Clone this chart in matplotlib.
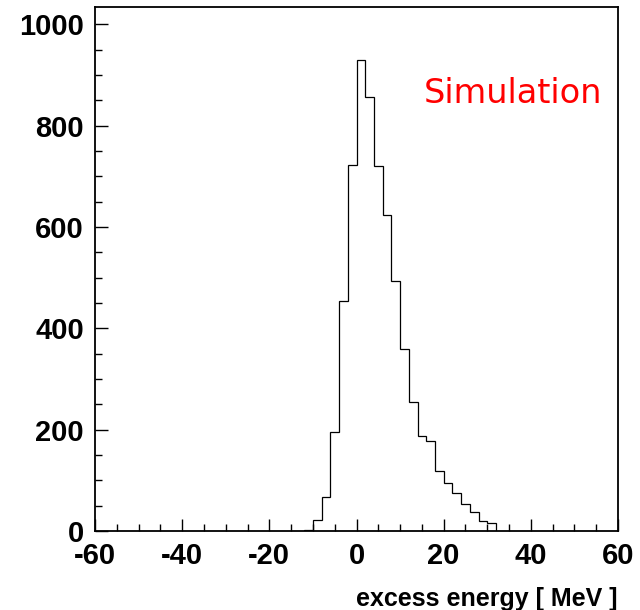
import numpy as np
import matplotlib
matplotlib.use("Agg")
import matplotlib.pyplot as plt
from matplotlib.ticker import MultipleLocator

# histogram of excess energy, 2 MeV bins
bin_edges = np.arange(-12, 34, 2)
counts = [2, 21, 67, 196, 454, 722, 930, 857, 721, 624, 494, 359,
          254, 188, 177, 119, 94, 75, 54, 38, 19, 15]

x_ticks = [-60, -40, -20, 0, 20, 40, 60]
y_ticks = [0, 200, 400, 600, 800, 1000]

plt.rcParams['font.family'] = ['Liberation Sans', 'DejaVu Sans']
plt.rcParams['axes.unicode_minus'] = False

fig = plt.figure(figsize=(6.4, 6.1), dpi=100)
ax = fig.add_axes([95 / 640, 79 / 610, 523 / 640, 524 / 610])

ax.stairs(counts, bin_edges, color='black', linewidth=0.9)

ax.set_xlim(-60, 60)
ax.set_ylim(0, 1034)
ax.set_xticks(x_ticks)
ax.set_yticks(y_ticks)
ax.xaxis.set_minor_locator(MultipleLocator(5))
ax.yaxis.set_minor_locator(MultipleLocator(50))
ax.tick_params(which='both', direction='in', top=False, right=False, width=1)
ax.tick_params(which='major', length=9, labelsize=21, pad=8)
ax.tick_params(which='minor', length=5)
for lbl in ax.get_xticklabels() + ax.get_yticklabels():
    lbl.set_fontweight('bold')
for sp in ax.spines.values():
    sp.set_linewidth(1.3)

ax.set_xlabel('excess energy [ MeV ]', fontsize=18, fontweight='bold',
              loc='right', labelpad=12)
ax.text(0.969, 0.817, 'Simulation', color='red', fontsize=24.2,
        family='DejaVu Sans', ha='right', va='baseline',
        transform=ax.transAxes)

fig.savefig('out.png', dpi=100)
